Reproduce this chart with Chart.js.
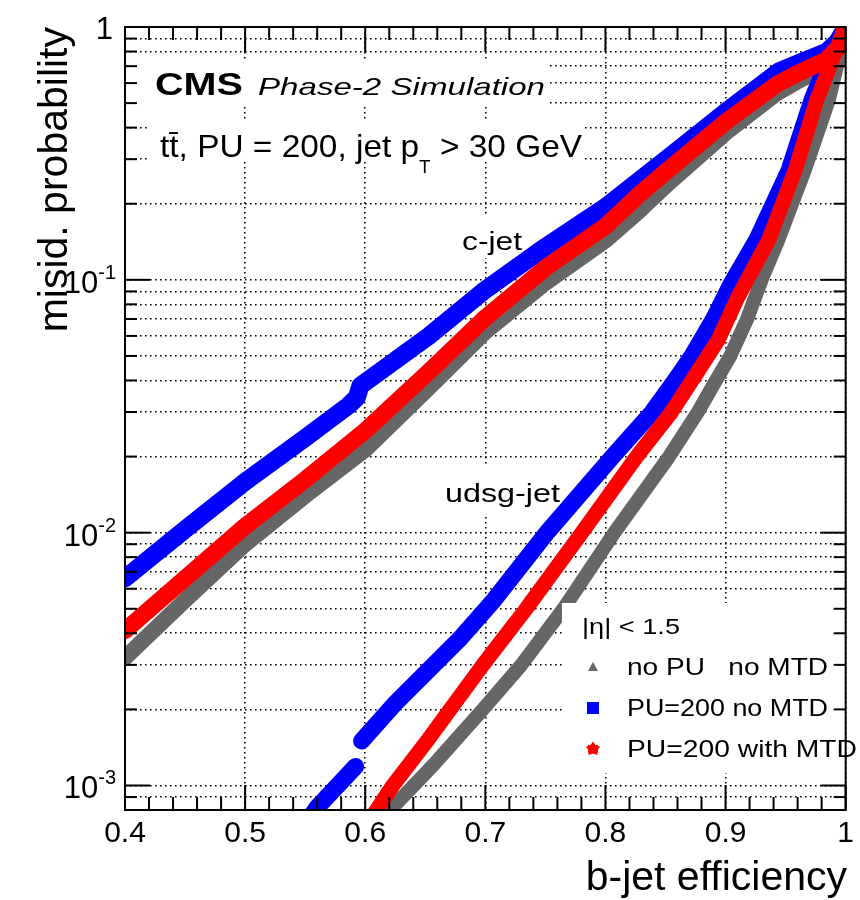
<!DOCTYPE html>
<html>
<head>
<meta charset="utf-8">
<script src="https://cdn.jsdelivr.net/npm/chart.js@4.4.1/dist/chart.umd.min.js"></script>
<style>
  html, body { margin: 0; padding: 0; background: #fff; }
</style>
</head>
<body>
<canvas id="roc" width="860" height="900"></canvas>
<script>
// axis setup
const xTicks = [0.4, 0.5, 0.6, 0.7, 0.8, 0.9, 1.0];
const xTickLabels = ['0.4', '0.5', '0.6', '0.7', '0.8', '0.9', '1'];
const yDecades = [0.001, 0.01, 0.1, 1];
const yDecadeExps = ['-3', '-2', '-1', ''];
const xRange = [0.4, 1.0];
const yRange = [0.0008, 1];

// c-jet misid. vs b-jet efficiency
const cNoPuEff = [0.40, 0.45, 0.50, 0.55, 0.60, 0.653, 0.70, 0.75, 0.80, 0.827, 0.85, 0.90, 0.943, 0.959, 0.984, 0.995, 1.0];
const cNoPuMis = [0.0032, 0.0054, 0.009, 0.014, 0.0213, 0.0374, 0.0623, 0.0973, 0.143, 0.185, 0.235, 0.381, 0.548, 0.606, 0.701, 0.811, 1.0];

const cPuEff = [0.40, 0.45, 0.50, 0.55, 0.586, 0.593, 0.596, 0.653, 0.70, 0.75, 0.80, 0.85, 0.90, 0.945, 0.963, 0.984, 0.995, 1.0];
const cPuMis = [0.0066, 0.0103, 0.0159, 0.0237, 0.0318, 0.0342, 0.0381, 0.060, 0.0913, 0.135, 0.194, 0.298, 0.461, 0.670, 0.727, 0.797, 0.888, 1.0];

const cMtdEff = [0.40, 0.45, 0.50, 0.55, 0.60, 0.653, 0.70, 0.75, 0.80, 0.827, 0.85, 0.90, 0.943, 0.959, 0.984, 0.995, 1.0];
const cMtdMis = [0.0041, 0.0066, 0.0106, 0.0162, 0.0253, 0.0433, 0.0708, 0.1115, 0.163, 0.215, 0.267, 0.421, 0.595, 0.652, 0.741, 0.841, 1.0];

// udsg-jet misid. vs b-jet efficiency
const lNoPuEff = [0.615, 0.623, 0.657, 0.698, 0.730, 0.765, 0.808, 0.853, 0.877, 0.892, 0.904, 0.918, 0.930, 0.944, 0.966, 0.986, 0.997, 1.0];
const lNoPuMis = [0.00072, 0.00082, 0.00121, 0.0020, 0.0030, 0.0050, 0.0101, 0.020, 0.030, 0.040, 0.050, 0.070, 0.10, 0.144, 0.272, 0.515, 0.85, 1.0];

// null = gap in the curve near 0.59
const lPuEff = [0.552, 0.560, 0.578, 0.592, 0.5945, 0.597, 0.624, 0.653, 0.678, 0.707, 0.752, 0.806, 0.839, 0.858, 0.872, 0.890, 0.905, 0.926, 0.953, 0.972, 0.991, 1.0];
const lPuMis = [0.00072, 0.00082, 0.00101, 0.00119, null, 0.00150, 0.00209, 0.00287, 0.00377, 0.0054, 0.0101, 0.020, 0.030, 0.040, 0.050, 0.070, 0.097, 0.144, 0.272, 0.515, 0.85, 1.0];

const lMtdEff = [0.603, 0.611, 0.623, 0.651, 0.698, 0.734, 0.781, 0.826, 0.855, 0.875, 0.894, 0.909, 0.918, 0.936, 0.958, 0.976, 0.992, 1.0];
const lMtdMis = [0.00072, 0.00082, 0.0010, 0.00149, 0.0030, 0.0050, 0.0101, 0.020, 0.030, 0.042, 0.058, 0.083, 0.10, 0.144, 0.272, 0.515, 0.81, 1.0];

const legendHeader = '|η| < 1.5';
const legendNames = ['no PU   no MTD', 'PU=200 no MTD', 'PU=200 with MTD'];

const GRAY = '#666666';
const BLUE = '#0000ff';
const RED = '#ff0000';
const FONT = '"Liberation Sans", Arial, sans-serif';

function pts(xs, ys) {
    return xs.map((v, i) => ({ x: v, y: ys[i] }));
}

function curve(label, xs, ys, color, width) {
    return {
        label: label,
        data: pts(xs, ys),
        borderColor: color,
        backgroundColor: color,
        borderWidth: width,
        borderCapStyle: 'round',
        borderJoinStyle: 'round',
        pointRadius: 0,
        tension: 0,
        spanGaps: false,
        fill: false
    };
}

// minor log positions 1..9 x 10^k inside the y range
const yGrid = [];
for (let k = -4; k <= 0; k++) {
    for (let m = 1; m <= 9; m++) {
        const v = m * Math.pow(10, k);
        if (v >= yRange[0] && v <= yRange[1] * 1.0001) yGrid.push(v);
    }
}

function fitText(ctx, str, x, y, font, width) {
    ctx.save();
    ctx.font = font;
    const w = ctx.measureText(str).width;
    ctx.translate(x, y);
    ctx.scale(width / w, 1);
    ctx.fillText(str, 0, 0);
    ctx.restore();
}

function seg(ctx, x1, y1, x2, y2) {
    ctx.beginPath();
    ctx.moveTo(x1, y1);
    ctx.lineTo(x2, y2);
    ctx.stroke();
}

const rocDecor = {
    id: 'rocDecor',
    beforeDatasetsDraw(chart) {
        const ctx = chart.ctx;
        ctx.save();
        // text boxes hide the grid behind them
        ctx.fillStyle = '#fff';
        ctx.fillRect(127, 62, 423, 45);
        ctx.fillRect(150, 122, 432, 40);
        ctx.fillRect(455, 215, 75, 43);
        ctx.fillRect(440, 467, 126, 50);

        ctx.fillStyle = '#000';
        ctx.textAlign = 'left';
        ctx.textBaseline = 'alphabetic';
        fitText(ctx, 'CMS', 155, 95, 'bold 32px ' + FONT, 88);
        fitText(ctx, 'Phase-2 Simulation', 258, 95, 'italic 24px ' + FONT, 287);

        // tt, PU = 200, jet pT > 30 GeV
        const p1 = 't\u0074\u0304, PU = 200, jet p';
        const p2 = 'T';
        const p3 = ' > 30 GeV';
        const big = '32px ' + FONT;
        const small = '18px ' + FONT;
        ctx.font = big;
        const w1 = ctx.measureText(p1).width;
        const w3 = ctx.measureText(p3).width;
        ctx.font = small;
        const w2 = ctx.measureText(p2).width;
        const s = 422 / (w1 + w2 + w3);
        ctx.translate(160, 157);
        ctx.scale(s, 1);
        ctx.font = big;
        ctx.fillText(p1, 0, 0);
        ctx.font = small;
        ctx.fillText(p2, w1, 16);
        ctx.font = big;
        ctx.fillText(p3, w1 + w2, 0);
        ctx.setTransform(1, 0, 0, 1, 0, 0);

        fitText(ctx, 'c-jet', 462, 250, '26px ' + FONT, 60);
        fitText(ctx, 'udsg-jet', 445, 502, '26px ' + FONT, 115);
        ctx.restore();
    },
    afterDatasetsDraw(chart) {
        const { ctx, chartArea: a, scales: { x, y } } = chart;
        ctx.save();

        // legend box
        ctx.fillStyle = '#fff';
        ctx.fillRect(562, 603, a.right - 562, 170);

        // frame and ticks
        ctx.strokeStyle = '#000';
        ctx.lineWidth = 2;
        ctx.strokeRect(a.left, a.top, a.right - a.left, a.bottom - a.top);
        for (let i = 0; i <= 30; i++) {
            const px = x.getPixelForValue(xRange[0] + i * 0.02);
            const len = i % 5 === 0 ? 25 : 13;
            seg(ctx, px, a.bottom, px, a.bottom - len);
            seg(ctx, px, a.top, px, a.top + len);
        }
        yGrid.forEach(v => {
            const py = y.getPixelForValue(v);
            const major = yDecades.some(d => Math.abs(d - v) / d < 1e-6);
            const len = major ? 25 : 12;
            seg(ctx, a.left, py, a.left + len, py);
            seg(ctx, a.right, py, a.right - len, py);
        });

        // y tick labels 10^n
        ctx.fillStyle = '#000';
        ctx.textBaseline = 'alphabetic';
        ctx.textAlign = 'right';
        yDecades.forEach((d, i) => {
            const py = y.getPixelForValue(d);
            const exp = yDecadeExps[i];
            if (exp === '') {
                ctx.font = '31px ' + FONT;
                ctx.fillText('1', 113, py + 12);
                return;
            }
            ctx.font = '20px ' + FONT;
            const we = ctx.measureText(exp).width;
            ctx.fillText(exp, 116, py - 1);
            ctx.font = '31px ' + FONT;
            ctx.fillText('10', 116 - we, py + 13);
        });

        // axis titles
        ctx.font = '41px ' + FONT;
        ctx.textAlign = 'right';
        ctx.fillText('b-jet efficiency', 847, 890);
        ctx.save();
        ctx.translate(67, a.top);
        ctx.rotate(-Math.PI / 2);
        ctx.fillText('misid. probability', 0, 0);
        ctx.restore();

        // legend
        ctx.textAlign = 'left';
        fitText(ctx, legendHeader, 582, 634, '22px ' + FONT, 98);
        const rows = [675, 716, 757];
        const widths = [201, 201, 230];
        legendNames.forEach((n, i) => fitText(ctx, n, 627, rows[i], '24px ' + FONT, widths[i]));

        // legend markers
        ctx.fillStyle = GRAY;
        ctx.beginPath();
        ctx.moveTo(593, 662);
        ctx.lineTo(598, 671);
        ctx.lineTo(588, 671);
        ctx.closePath();
        ctx.fill();
        ctx.fillStyle = BLUE;
        ctx.fillRect(587, 702, 12, 12);
        ctx.fillStyle = RED;
        ctx.beginPath();
        for (let k = 0; k < 10; k++) {
            const r = k % 2 === 0 ? 7.5 : 4.5;
            const ang = -Math.PI / 2 + k * Math.PI / 5;
            const px = 593 + r * Math.cos(ang);
            const py = 749 + r * Math.sin(ang);
            if (k === 0) ctx.moveTo(px, py); else ctx.lineTo(px, py);
        }
        ctx.closePath();
        ctx.fill();
        ctx.fillRect(588, 745, 10, 8);

        ctx.restore();
    }
};

const gridStyle = { color: '#000', lineWidth: 1.6, drawTicks: false };
const borderStyle = { display: false, dash: [1.6, 3.4] };

new Chart(document.getElementById('roc').getContext('2d'), {
    type: 'line',
    data: {
        datasets: [
            curve('c-jet PU=200 with MTD', cMtdEff, cMtdMis, RED, 17),
            curve('udsg-jet PU=200 with MTD', lMtdEff, lMtdMis, RED, 15),
            curve('c-jet PU=200 no MTD', cPuEff, cPuMis, BLUE, 18),
            curve('udsg-jet PU=200 no MTD', lPuEff, lPuMis, BLUE, 17),
            curve('c-jet no PU no MTD', cNoPuEff, cNoPuMis, GRAY, 16),
            curve('udsg-jet no PU no MTD', lNoPuEff, lNoPuMis, GRAY, 14)
        ]
    },
    options: {
        responsive: false,
        animation: false,
        layout: { padding: { top: 27, right: 11, left: 0, bottom: 0 } },
        plugins: { legend: { display: false }, tooltip: { enabled: false } },
        scales: {
            x: {
                type: 'linear',
                min: xRange[0],
                max: xRange[1],
                afterBuildTicks: s => { s.ticks = xTicks.map(v => ({ value: v })); },
                afterFit: s => { s.height = 90; },
                ticks: {
                    callback: (v, i) => xTickLabels[i],
                    autoSkip: false,
                    maxRotation: 0,
                    padding: 6,
                    color: '#000',
                    font: { family: FONT, size: 30 }
                },
                grid: gridStyle,
                border: borderStyle
            },
            y: {
                type: 'logarithmic',
                min: yRange[0],
                max: yRange[1],
                afterBuildTicks: s => { s.ticks = yGrid.map(v => ({ value: v })); },
                afterFit: s => { s.width = 125; },
                ticks: { display: false },
                grid: gridStyle,
                border: borderStyle
            }
        }
    },
    plugins: [rocDecor]
});
</script>
</body>
</html>
